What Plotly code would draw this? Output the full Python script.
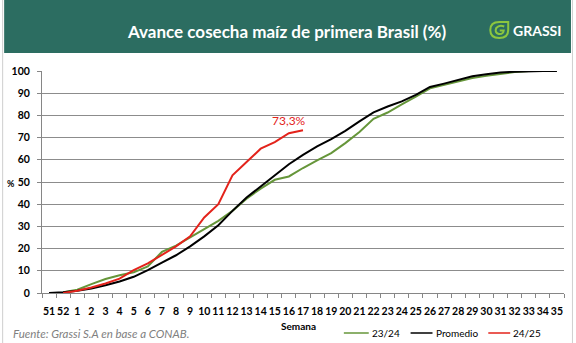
import plotly.graph_objects as go

# ---------------- data ----------------
weeks = ['51', '52'] + [str(i) for i in range(1, 36)]

promedio = [0, 0.3, 1, 2, 3.5, 5.2, 7.3, 10.3, 13.7, 17, 21, 25.5, 30.5, 37, 43, 48,
            53.3, 58, 62.2, 66, 69.3, 73, 77.3, 81.4, 84, 86.3, 89.2, 92.8, 94.3,
            96, 97.6, 98.5, 99.3, 99.7, 100, 100, 100]

s2324 = [None, 0.3, 1.5, 4, 6.3, 8, 9.3, 12, 18.5, 21.3, 25, 29, 32.5, 37, 42.5, 47,
         51, 52.5, 56.3, 59.7, 63, 67.5, 72.5, 78.5, 81.3, 85, 88.4, 92.2, 93.8,
         95.3, 96.8, 97.8, 98.8, 99.5, 100, None, None]

s2425 = [None, 0, 1, 2.5, 4.3, 6.5, 10.3, 13.3, 17, 21, 25.5, 34, 40, 53, 59, 65,
         68, 72, 73.3] + [None] * 18

series_names = ['23/24', 'Promedio', '24/25']
series_values = [s2324, promedio, s2425]
series_colors = ['#66963a', '#000000', '#e3231b']

title_text = 'Avance cosecha maíz de primera Brasil (%)'
last_label = '73,3%'
source_text = 'Fuente: Grassi S.A en base a CONAB.'

# ---------------- layout geometry ----------------
W, H = 576, 343
L, R, T, B = 40, 12, 71, 50
PW, PH = W - L - R, H - T - B


def px(x):
    return (x - L) / PW


def py(y):
    return (H - B - y) / PH


FONT = 'Lato'

fig = go.Figure()
for name, vals, col in zip(series_names, series_values, series_colors):
    fig.add_trace(go.Scatter(x=weeks, y=vals, name=name, mode='lines',
                             line=dict(color=col, width=2), showlegend=False,
                             connectgaps=False))

# label of last 24/25 value
last_idx = max(i for i, v in enumerate(s2425) if v is not None)
fig.add_annotation(x=weeks[last_idx], y=s2425[last_idx], text=last_label,
                   showarrow=False, yshift=10, xanchor='center',
                   font=dict(family=FONT, size=12, color='#e3231b'))

shapes = []
# header band
shapes.append(dict(type='rect', xref='paper', yref='paper',
                   x0=px(2), x1=px(571), y0=py(53), y1=py(0),
                   fillcolor='#2c6d61', line=dict(width=0), layer='below'))
# outer light frame lines
shapes.append(dict(type='line', xref='paper', yref='paper',
                   x0=px(572.5), x1=px(572.5), y0=py(0), y1=py(343),
                   line=dict(color='#cfcfcf', width=1)))
shapes.append(dict(type='line', xref='paper', yref='paper',
                   x0=px(0.5), x1=px(0.5), y0=py(0), y1=py(343),
                   line=dict(color='#cfcfcf', width=1)))


def path(points_cmds):
    out = []
    for c in points_cmds:
        if isinstance(c, str):
            out.append(c)
        else:
            out.append('%.5f,%.5f' % (px(c[0]), py(c[1])))
    return ' '.join(out)


leaf = path(['M', (508, 22), 'L', (508, 30), 'Q', (508, 38), (499, 38),
             'Q', (490, 38), (490, 30), 'Q', (490, 22), (499, 22), 'Z'])
inner = path(['M', (504, 26.5), 'Q', (499, 24.5), (496, 28), 'Q', (494, 32.5), (498.5, 34),
              'Q', (503, 34.5), (503.5, 30.5), 'L', (499.5, 30.5)])
shapes.append(dict(type='path', xref='paper', yref='paper', path=leaf,
                   line=dict(color='#8cc63f', width=2)))
shapes.append(dict(type='path', xref='paper', yref='paper', path=inner,
                   line=dict(color='#8cc63f', width=2)))

# manual legend
leg_lines = [(343, 368), (410, 432), (488, 510)]
for (x0, x1), name, col in zip(leg_lines, series_names, series_colors):
    shapes.append(dict(type='line', xref='paper', yref='paper',
                       x0=px(x0), x1=px(x1), y0=py(333), y1=py(333),
                       line=dict(color=col, width=1.5)))
    fig.add_annotation(xref='paper', yref='paper', x=px(x1 + 1), y=py(333),
                       text=name, showarrow=False, xanchor='left', yanchor='middle',
                       font=dict(family=FONT, size=10, color='#000000'))

# texts
fig.add_annotation(xref='paper', yref='paper', x=px(285), y=py(31), text='<b>' + title_text + '</b>',
                   showarrow=False, xanchor='center', yanchor='middle',
                   font=dict(family=FONT, size=17, color='white'))
fig.add_annotation(xref='paper', yref='paper', x=px(511), y=py(30.5), text='<b>GRASSI</b>',
                   showarrow=False, xanchor='left', yanchor='middle',
                   font=dict(family=FONT, size=14, color='white'))
fig.add_annotation(xref='paper', yref='paper', x=px(14.5), y=py(183), text='<b>%</b>',
                   showarrow=False, xanchor='right', yanchor='middle',
                   font=dict(family=FONT, size=9, color='#000000'))
fig.add_annotation(xref='paper', yref='paper', x=px(297), y=py(325.5), text='<b>Semana</b>',
                   showarrow=False, xanchor='center', yanchor='middle',
                   font=dict(family=FONT, size=10, color='#000000'))
fig.add_annotation(xref='paper', yref='paper', x=px(9), y=py(333), text='<i>' + source_text + '</i>',
                   showarrow=False, xanchor='left', yanchor='middle',
                   font=dict(family=FONT, size=11.5, color='#808080'))

fig.update_layout(
    width=W, height=H, margin=dict(l=L, r=R, t=T, b=B, pad=0),
    paper_bgcolor='white', plot_bgcolor='white', showlegend=False,
    shapes=shapes,
    xaxis=dict(type='category', categoryorder='array', categoryarray=weeks,
               range=[-0.5, len(weeks) - 0.5], showgrid=False, zeroline=False,
               showline=True, linecolor='#868686', linewidth=1,
               ticks='outside', tickson='boundaries', ticklen=4, tickcolor='#868686',
               tickfont=dict(family=FONT, size=10.5, color='#000000', weight='bold'),
               ticklabelstandoff=8, tickangle=0),
    yaxis=dict(range=[0, 100], dtick=10, showgrid=True, gridcolor='#8c8c8c', gridwidth=1,
               zeroline=False, showline=True, linecolor='#868686', linewidth=1,
               ticks='outside', ticklen=4, tickcolor='#868686',
               tickfont=dict(family=FONT, size=10.5, color='#000000', weight='bold'),
               ticklabelstandoff=5),
)

fig.write_html('out.html')
